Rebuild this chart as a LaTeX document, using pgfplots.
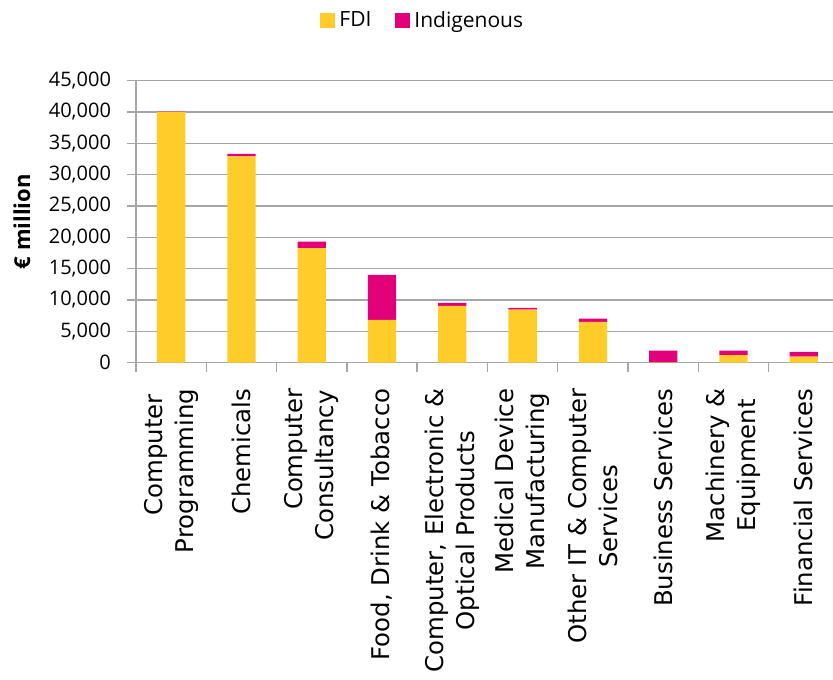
\documentclass[border=0pt]{standalone}
\usepackage{pgfplots}
\pgfplotsset{compat=1.18}
\usepackage{fontspec}
\setmainfont{Open Sans}
\newfontfamily\xfont{DejaVu Sans}
\definecolor{fdi}{HTML}{FFCC29}
\definecolor{ind}{HTML}{E2007A}
\definecolor{gridgray}{HTML}{A6A6A6}
\pgfplotsset{sqleg/.style={legend image code/.code={\fill[##1] (0pt,-3.75pt) rectangle (7.5pt,3.75pt);}}}
\begin{document}
\begin{tikzpicture}
\path[use as bounding box] (-68pt,-158.2pt) rectangle (348.5pt,181.3pt);
\begin{axis}[
  scale only axis, width=348.5pt, height=141pt,
  ybar stacked, bar width=14.15pt,
  xmin=-0.5, xmax=9.415, ymin=0, ymax=45000,
  ytick={0,5000,...,45000},
  scaled y ticks=false,
  /pgf/number format/1000 sep={,},
  /pgf/number format/assume math mode=true,
  axis x line*=bottom, axis y line*=left,
  axis line style={gridgray, line width=0.7pt, -},
  tick align=outside, major tick length=4.5pt,
  tick style={gridgray, line width=0.7pt},
  ymajorgrids, grid style={gridgray, line width=0.7pt},
  xtick={-0.5,0.5,...,8.5}, xticklabels={},
  extra x ticks={0,1,...,9},
  extra x tick labels={{\hspace*{16pt}Computer\\Programming}, Chemicals, {\hspace*{16pt}Computer\\Consultancy}, {Food, Drink \& Tobacco}, {Computer, Electronic \&\\Optical Products}, {Medical Device\\Manufacturing}, {Other IT \& Computer\\Services}, Business Services, {Machinery \&\\Equipment}, Financial Services},
  extra x tick style={major tick length=0pt, xticklabel style={rotate=90, anchor=east, align=center, font=\xfont\fontsize{12.2}{15.5}\selectfont, xshift=-9.5pt}},
  yticklabel style={font=\fontsize{10}{12}\selectfont, xshift=-4.5pt},
  ylabel={\bfseries € million},
  ylabel style={at={(axis description cs:-0.1636,0.5)}, anchor=center, font=\fontsize{11}{13}\selectfont},
  legend style={at={(axis description cs:0.2554,1.275)}, anchor=north west, draw=none, fill=none, font=\fontsize{10.5}{12}\selectfont, legend columns=2, /tikz/every even column/.append style={column sep=10pt}},
  legend cell align=left,
]
\addplot[fill=fdi, draw=none, sqleg] coordinates {
(0,40000) (1,32900) (2,18250) (3,6800) (4,9050) (5,8450) (6,6500) (7,50) (8,1180) (9,960)};
\addplot[fill=ind, draw=none, sqleg] coordinates {
(0,50) (1,400) (2,1050) (3,7200) (4,500) (5,280) (6,500) (7,1850) (8,740) (9,740)};
\legend{FDI, Indigenous}
\end{axis}
\end{tikzpicture}
\end{document}
